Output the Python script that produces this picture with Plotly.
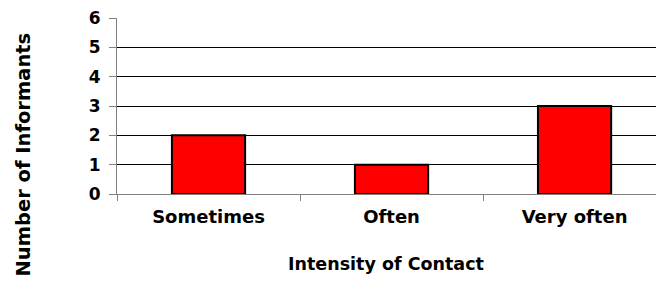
import plotly.graph_objects as go

categories = ["Sometimes", "Often", "Very often"]
informants = [2, 1, 3]
y_ticks = [0, 1, 2, 3, 4, 5, 6]
grid_values = [1, 2, 3, 4, 5]

FONT = "DejaVu Sans"

fig = go.Figure()
fig.add_trace(go.Bar(
    x=categories, y=informants, width=0.40,
    marker=dict(color="#FF0000", line=dict(color="#000000", width=2)),
    showlegend=False,
))
# invisible helper so the grid-only overlay axis is drawn
fig.add_trace(go.Scatter(
    x=categories, y=[None] * len(categories), yaxis="y2",
    mode="lines", showlegend=False, hoverinfo="skip",
))

fig.update_layout(
    width=656, height=282,
    margin=dict(l=117, r=0, t=18, b=88),
    paper_bgcolor="white", plot_bgcolor="white",
    font=dict(family=FONT, color="black"),
    xaxis=dict(
        type="category", range=[-0.5, 2.445],
        showline=True, linecolor="#808080", linewidth=1,
        ticks="outside", tickson="boundaries", ticklen=6, tickcolor="#808080",
        showgrid=False, zeroline=False,
        tickfont=dict(family=FONT, size=18, color="black", weight="bold"),
        ticklabelstandoff=6,
    ),
    yaxis=dict(
        range=[0, 6], tickvals=y_ticks,
        showline=True, linecolor="#808080", linewidth=1,
        ticks="outside", ticklen=7, tickcolor="#808080",
        showgrid=False, zeroline=False,
        tickfont=dict(family=FONT, size=17, color="black", weight="bold"),
        ticklabelstandoff=5,
    ),
    yaxis2=dict(
        overlaying="y", range=[0, 6], tickvals=grid_values,
        showgrid=True, gridcolor="#000000", gridwidth=1,
        showticklabels=False, ticks="", showline=False, zeroline=False,
    ),
)

fig.add_annotation(
    text="<b>Number of Informants</b>", xref="paper", yref="paper",
    x=(23 - 117) / 539, y=(194 - 154.5) / 176, textangle=-90,
    showarrow=False, xanchor="center", yanchor="middle",
    font=dict(family=FONT, size=19.5, color="black"),
)
fig.add_annotation(
    text="<b>Intensity of Contact</b>", xref="paper", yref="paper",
    x=(386 - 117) / 539, y=(194 - 263.5) / 176,
    showarrow=False, xanchor="center", yanchor="middle",
    font=dict(family=FONT, size=17.5, color="black"),
)

fig.write_html(
    "out.html",
    config={"displayModeBar": False},
    post_script="document.body.style.margin='0';",
)
